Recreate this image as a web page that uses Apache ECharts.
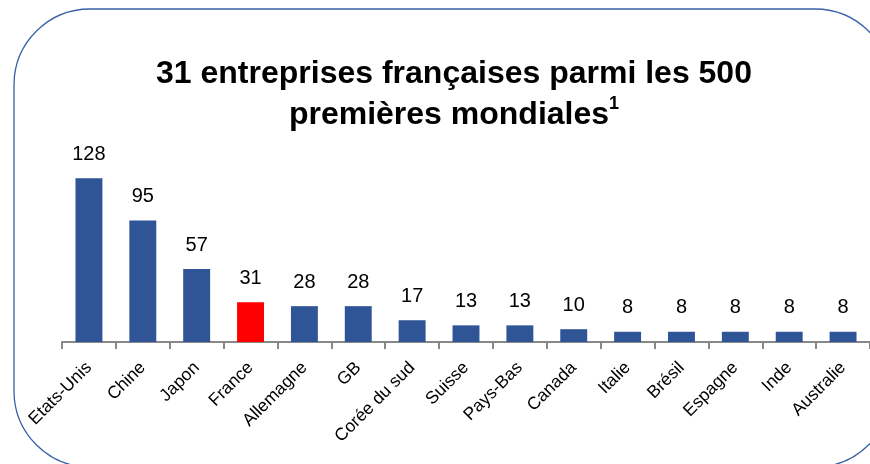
<!DOCTYPE html>
<html><head><meta charset="utf-8">
<script src="https://cdn.jsdelivr.net/npm/echarts@6/dist/echarts.min.js"></script>
<style>html,body{margin:0;padding:0;background:#fff}#c{width:870px;height:464px}</style>
</head><body><div id="c"></div>
<script>
const categories = ["Etats-Unis","Chine","Japon","France","Allemagne","GB","Corée du sud","Suisse","Pays-Bas","Canada","Italie","Brésil","Espagne","Inde","Australie"];
const values = [128,95,57,31,28,28,17,13,13,10,8,8,8,8,8];
const highlight = "France";
const BLUE = "#2F5597", RED = "#FF0000";
const chart = echarts.init(document.getElementById('c'), null, {renderer:'canvas'});
chart.setOption({
  animation:false,
  backgroundColor:'#fff',
  graphic:[{type:'rect', shape:{x:14,y:9,width:877,height:458,r:76}, style:{fill:'none',stroke:'#3A62A8',lineWidth:1.3}, z:-1}],
  title:{
    text:'31 entreprises françaises parmi les 500\npremières mondiales{s|1}',
    left:449, top:49, textAlign:'center',
    textStyle:{fontFamily:'Liberation Sans', fontWeight:'bold', fontSize:32, color:'#000', lineHeight:41,
      rich:{s:{fontFamily:'Liberation Sans',fontWeight:'bold',fontSize:18,verticalAlign:'top',lineHeight:41,padding:[0,0,16,0]}}}
  },
  grid:{left:62, right:-8, top:162.8, bottom:122, containLabel:false},
  xAxis:{type:'category', data:categories,
    axisLine:{lineStyle:{color:'#888',width:2}},
    axisTick:{show:true,length:7,lineStyle:{color:'#888',width:2}},
    axisLabel:{rotate:45, color:'#000', fontFamily:'Liberation Sans', fontSize:17.5, margin:23, interval:0}
  },
  yAxis:{type:'value', min:0, max:140, show:false, splitLine:{show:false}},
  series:[{type:'bar', barWidth:'50%',
    data: values.map((v,i)=>({value:v, itemStyle:{color: categories[i]===highlight?RED:BLUE}})),
    label:{show:true, position:'top', distance:14, color:'#000', fontFamily:'Liberation Sans', fontSize:20}
  }]
});
</script></body></html>
